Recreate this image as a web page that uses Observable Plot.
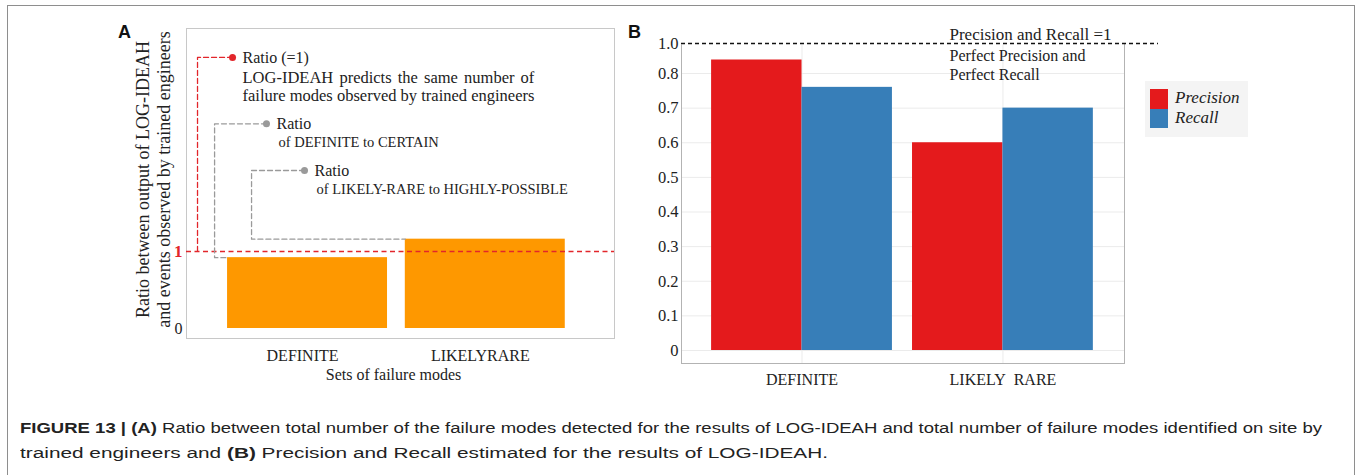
<!DOCTYPE html>
<html>
<head>
<meta charset="utf-8">
<script src="https://cdn.jsdelivr.net/npm/d3@7"></script>
<script src="https://cdn.jsdelivr.net/npm/@observablehq/plot@0.6"></script>
<style>
  html, body { margin: 0; padding: 0; background: #fff; }
  body { position: relative; width: 1360px; height: 475px; overflow: hidden; }
  #outer { position: absolute; left: 7px; top: 5px; width: 1348px; height: 490px; border: 1.5px solid #8e8e8e; box-sizing: border-box; }
  .panel { position: absolute; top: 0; }
  .tag { position: absolute; font-family: "Liberation Sans", Arial, sans-serif; font-weight: bold; font-size: 18px; line-height: 18px; color: #111; }
  #legend { position: absolute; left: 1145px; top: 81px; width: 103px; height: 56px; background: #f4f4f4; }
  .sw { position: absolute; left: 5px; width: 18px; }
  .lt { position: absolute; left: 30px; font: italic 17px "Liberation Serif", serif; line-height: 17px; color: #222; white-space: nowrap; }
  .cap { position: absolute; left: 20px; font-family: "Liberation Sans", Arial, sans-serif; font-size: 14px; line-height: 18px; color: #222; white-space: nowrap; transform-origin: 0 0; }
</style>
</head>
<body>
<div id="outer"></div>
<div class="tag" style="left:118px;top:23px">A</div>
<div class="tag" style="left:628px;top:23px">B</div>
<div id="panelA" class="panel" style="left:100px"></div>
<div id="panelB" class="panel" style="left:620px"></div>
<div id="legend"></div>
<div class="cap" id="cap1" style="top:419px"><b>FIGURE 13 | (A)</b> Ratio between total number of the failure modes detected for the results of LOG-IDEAH and total number of failure modes identified on site by</div>
<div class="cap" id="cap2" style="top:444px">trained engineers and <b>(B)</b> Precision and Recall estimated for the results of LOG-IDEAH.</div>
<script>
// ---------- data ----------
const categoriesA = ["DEFINITE", "LIKELYRARE"];
const ratioA = [0.92, 1.16];
const yTicksA = [0, 1];

const categoriesB = ["DEFINITE", "LIKELY\u00a0\u00a0RARE"];
const seriesB = ["Precision", "Recall"];
const precisionB = [0.89, 0.60];
const recallB = [0.76, 0.70];
const yTicksB = [0, 0.1, 0.2, 0.3, 0.4, 0.5, 0.6, 0.7, 0.8, 1.0];

// ---------- styles ----------
const ORANGE = "#fe9800";
const RED = "#e2262b";
const GRAY = "#9a9a9a";
const colorsB = ["#e41a1c", "#377eb8"];
const SERIF = "'Liberation Serif', 'Times New Roman', serif";

// ---------- panel A ----------
const rowsA = categoriesA.map((c, i) => ({category: c, i, ratio: ratioA[i]}));

const annA = [
  {id: "equal", x: 0.078, y: 3.52, elbow: -0.119, color: RED, title: "Ratio (=1)"},
  {id: "def", x: 0.269, y: 2.658, elbow: -0.023, color: GRAY, title: "Ratio", detail: "of DEFINITE to CERTAIN", bar: 0},
  {id: "lr", x: 0.483, y: 2.052, elbow: 0.185, color: GRAY, title: "Ratio", detail: "of LIKELY-RARE to HIGHLY-POSSIBLE", bar: 1}
];
const connectors = annA.flatMap(a => {
  const pts = [{x: a.x, y: a.y}, {x: a.elbow, y: a.y}];
  if (a.bar === undefined) pts.push({x: a.elbow, y: 1});
  else { const v = ratioA[a.bar]; pts.push({x: a.elbow, y: v}, {x: a.bar + 0.05, y: v}); }
  return pts.map(p => ({...p, id: a.id, color: a.color}));
});
const equalNote = annA[0];

const A = Plot.plot({
  width: 520, height: 395,
  marginLeft: 86, marginRight: 6, marginTop: 28, marginBottom: 57,
  style: {fontFamily: SERIF, fontSize: "16px", color: "#222", background: "transparent", overflow: "visible"},
  x: {domain: [-0.181, 2.227], axis: null},
  y: {domain: [0, 3.896], range: [328, 28], axis: null},
  color: {type: "identity"},
  marks: [
    Plot.frame({stroke: "#c8c8c8"}),
    Plot.rectY(rowsA, {x1: d => d.i + 0.05, x2: d => d.i + 0.95, y: "ratio", fill: ORANGE}),
    Plot.ruleY([1], {stroke: RED, strokeWidth: 1.3, strokeDasharray: "5,3.5"}),
    Plot.line(connectors, {x: "x", y: "y", z: "id", stroke: "color", strokeWidth: 1.3, strokeDasharray: "5,3"}),
    Plot.dot(annA, {x: "x", y: "y", r: 3.5, fill: "color"}),
    Plot.text(annA, {x: "x", y: "y", text: "title", dx: 10, textAnchor: "start", fontSize: 16, fill: "#222"}),
    Plot.text([equalNote], {x: "x", y: "y", text: () => "LOG-IDEAH predicts the same number of", dx: 10, dy: 20.5, textAnchor: "start", fontSize: 16.5, fill: "#222"}),
    Plot.text([equalNote], {x: "x", y: "y", text: () => "failure modes observed by trained engineers", dx: 10, dy: 38.5, textAnchor: "start", fontSize: 16.5, fill: "#222"}),
    Plot.text(annA.filter(a => a.detail), {x: "x", y: "y", text: "detail", dx: 12, dy: 19, textAnchor: "start", fontSize: 14.5, fill: "#222"}),
    Plot.axisY([0], {tickSize: 0, tickPadding: 4, tickFormat: d => String(d), fontSize: 16, fill: "#222", label: null}),
    Plot.axisY([1], {tickSize: 0, tickPadding: 4, tickFormat: d => String(d), fontSize: 17, fontWeight: "bold", fill: RED, label: null}),
    Plot.axisX([0.5, 1.5], {tickSize: 0, tickPadding: 11, dx: -5, tickFormat: d => categoriesA[Math.floor(d)], fontSize: 16, fill: "#222", label: null}),
    Plot.text(["Sets of failure modes"], {frameAnchor: "bottom", lineAnchor: "middle", dy: 36, dx: -7, fontSize: 16, fill: "#222"}),
    Plot.text(["Ratio between output of LOG-IDEAH\nand events observed by trained engineers"], {frameAnchor: "left", textAnchor: "middle", lineAnchor: "middle", rotate: -90, dx: -34, dy: -4, lineHeight: 1.2, fontSize: 18, fill: "#222"})
  ]
});
document.getElementById("panelA").append(A);

// justify-like spacing of the first note line
d3.select(A).selectAll("text").filter(function () { return this.textContent.startsWith("LOG-IDEAH predicts"); }).style("word-spacing", "2px");

// ---------- panel B ----------
// The published axis is not linear: 0 to 0.8 in even steps, then a shorter step up to 1.0.
const yWarp = d3.scaleLinear().domain([0, 0.8, 1]).range([0, 0.8, 0.8 + 0.2 * 30 / 69.25]);
const rowsB = categoriesB.flatMap((c, g) => seriesB.map((s, k) => ({category: c, g, k, series: s, value: (k ? recallB : precisionB)[g]})));
const fmtB = v => { const t = yWarp.invert(v); return Math.abs(t) < 1e-9 ? "0" : t.toFixed(1); };

const B = Plot.plot({
  width: 680, height: 395,
  marginLeft: 61, marginRight: 176, marginTop: 43, marginBottom: 32,
  style: {fontFamily: SERIF, fontSize: "16px", color: "#222", background: "transparent", overflow: "visible"},
  x: {domain: [-0.0998, 2.105], axis: null},
  y: {domain: [0, yWarp(1)], range: [350, 43], axis: null},
  color: {domain: seriesB, range: colorsB},
  marks: [
    Plot.gridY(yTicksB.map(yWarp), {stroke: "#ebebeb", strokeOpacity: 1}),
    Plot.gridX([0.5, 1.5], {stroke: "#ebebeb", strokeOpacity: 1}),
    Plot.frame({stroke: "#b3b3b3"}),
    Plot.ruleY([yWarp(1)], {stroke: "white", strokeWidth: 2}),
    Plot.rectY(rowsB, {x1: d => d.g + 0.05 + 0.45 * d.k, x2: d => d.g + 0.5 + 0.45 * d.k, y1: 0, y2: d => yWarp(d.value), fill: "series"}),
    Plot.ruleY([yWarp(1)], {x1: -0.0998, x2: 2.274, stroke: "#111", strokeWidth: 1.3, strokeDasharray: "4,3"}),
    Plot.text(["Precision and Recall =1"], {x: 1.234, y: yWarp(1), dy: -9.4, textAnchor: "start", fontSize: 17, fill: "#222"}),
    Plot.text(["Perfect Precision and\nPerfect Recall"], {x: 1.234, y: yWarp(1), dy: 4, lineAnchor: "top", lineHeight: 1.19, textAnchor: "start", fontSize: 16, fill: "#222"}),
    Plot.axisY(yTicksB.map(yWarp), {tickSize: 0, tickPadding: 3, tickFormat: fmtB, fontSize: 16.5, fill: "#222", label: null}),
    Plot.axisX([0.5, 1.5], {tickSize: 0, tickPadding: 10, tickFormat: d => categoriesB[Math.floor(d)], fontSize: 16, fill: "#222", label: null})
  ]
});
document.getElementById("panelB").append(B);

// ---------- legend ----------
const legend = document.getElementById("legend");
seriesB.forEach((s, i) => {
  const sw = document.createElement("div");
  sw.className = "sw";
  sw.style.top = (8 + 19.5 * i) + "px";
  sw.style.height = "19.5px";
  sw.style.background = colorsB[i];
  legend.append(sw);
  const t = document.createElement("div");
  t.className = "lt";
  t.style.top = (8 + 20 * i) + "px";
  t.textContent = s;
  legend.append(t);
});

// ---------- caption: horizontally stretched like the published (condensed) type ----------
const c1 = document.getElementById("cap1");
const c2 = document.getElementById("cap2");
const k1 = 1302 / c1.getBoundingClientRect().width;
const k2 = 808 / c2.getBoundingClientRect().width;
c1.style.transform = `scaleX(${k1})`;
c2.style.transform = `scaleX(${k2})`;
</script>
</body>
</html>
